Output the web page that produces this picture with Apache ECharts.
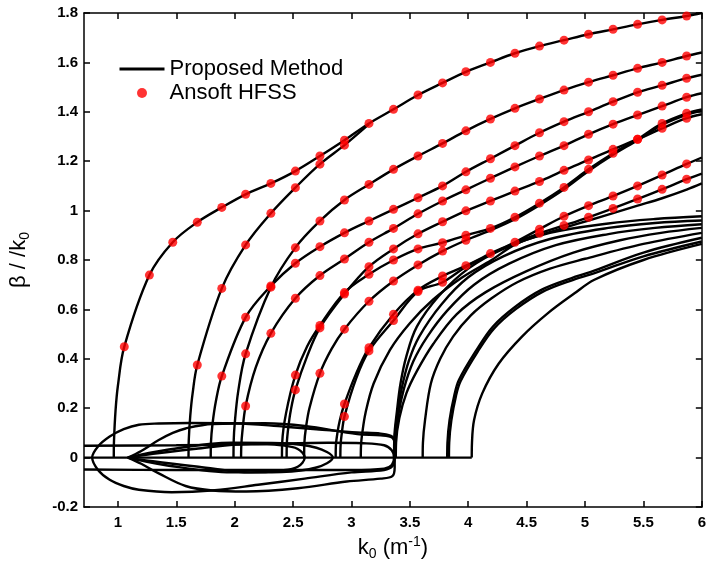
<!DOCTYPE html>
<html>
<head>
<meta charset="utf-8">
<script src="https://cdn.jsdelivr.net/npm/echarts@6/dist/echarts.min.js"></script>
<style>
html, body { margin: 0; padding: 0; background: #fff; }
#main { width: 709px; height: 569px; }
</style>
</head>
<body>
<div id="main"></div>
<script>
// tick labels
var xTicks = [1, 1.5, 2, 2.5, 3, 3.5, 4, 4.5, 5, 5.5, 6];

// HFSS points, one list per mode (k0, beta/k0)
var hfssA = [[1.055,0.449],[1.27,0.739],[1.47,0.872],[1.68,0.953],[1.89,1.013],[2.094,1.066],[2.31,1.11],[2.52,1.16],[2.73,1.221],[2.94,1.285],[3.15,1.353],[3.36,1.41],[3.57,1.468],[3.78,1.517],[3.98,1.562],[4.19,1.60],[4.40,1.637],[4.61,1.666],[4.82,1.69],[5.03,1.714],[5.24,1.734],[5.45,1.754],[5.66,1.772],[5.87,1.788]];
var hfssB = [[1.68,0.375],[1.89,0.685],[2.094,0.861],[2.31,0.989],[2.52,1.093],[2.73,1.188],[2.94,1.265]];
var hfssC = [[2.094,0.42],[2.31,0.69],[2.52,0.85],[2.73,0.958],[2.94,1.043],[3.15,1.106],[3.36,1.167],[3.57,1.221],[3.78,1.272],[3.98,1.323],[4.19,1.371],[4.40,1.414],[4.61,1.452],[4.82,1.488],[5.03,1.52],[5.24,1.548],[5.45,1.576],[5.66,1.60],[5.87,1.626]];
var hfssD = [[1.89,0.33],[2.094,0.568],[2.31,0.695],[2.52,0.787],[2.73,0.854],[2.94,0.91],[3.15,0.958],[3.36,1.005],[3.57,1.052],[3.78,1.10],[3.98,1.157],[4.19,1.21],[4.40,1.263],[4.61,1.315],[4.82,1.36],[5.03,1.40],[5.24,1.441],[5.45,1.479],[5.66,1.507],[5.87,1.536]];
var hfssE = [[2.094,0.209],[2.31,0.503],[2.52,0.645],[2.73,0.737],[2.94,0.804],[3.15,0.872],[3.36,0.928],[3.57,0.987],[3.78,1.039],[3.98,1.084],[4.19,1.131],[4.40,1.177],[4.61,1.221],[4.82,1.263],[5.03,1.309],[5.24,1.35],[5.45,1.387],[5.66,1.423],[5.87,1.459]];
var hfssF = [[2.52,0.274],[2.73,0.525],[2.94,0.662],[3.15,0.773],[3.36,0.845],[3.57,0.906],[3.78,0.955],[3.98,0.999],[4.19,1.039],[4.40,1.079],[4.61,1.118],[4.82,1.163],[5.03,1.205],[5.24,1.248],[5.45,1.289],[5.66,1.333],[5.87,1.374]];
var hfssG = [[2.52,0.334],[2.73,0.535],[2.94,0.668],[3.15,0.742],[3.36,0.80],[3.57,0.845],[3.78,0.87],[3.98,0.90],[4.19,0.928],[4.40,0.973],[4.61,1.03],[4.82,1.094],[5.03,1.167],[5.24,1.232],[5.45,1.289],[5.66,1.353],[5.87,1.394]];
var hfssH = [[2.73,0.341],[2.94,0.52],[3.15,0.633],[3.36,0.715],[3.57,0.78],[3.78,0.836],[3.98,0.88]];
var hfssI = [[2.94,0.217],[3.15,0.445],[3.36,0.58],[3.57,0.678],[3.78,0.735],[3.98,0.777],[4.19,0.826],[4.40,0.872],[4.61,0.925],[4.82,0.977],[5.03,1.02],[5.24,1.059],[5.45,1.10],[5.66,1.144],[5.87,1.189]];
var hfssJ = [[2.94,0.166],[3.15,0.432],[3.36,0.555],[3.57,0.672],[3.78,0.71],[4.61,0.908],[4.82,0.94],[5.03,0.973],[5.24,1.009],[5.45,1.047],[5.66,1.086],[5.87,1.127]];

// proposed method curves
var lineA = [[0.965,0],[0.967,0.07],[0.98,0.19],[1.0,0.29]].concat(hfssA, [[6,1.80]]);
var lineB = [[1.605,0],[1.607,0.07],[1.62,0.17],[1.64,0.26]].concat(hfssB, [[3.15,1.35]]);
var lineC = [[1.99,0],[1.992,0.07],[2.0,0.135],[2.03,0.267]].concat(hfssC, [[6,1.64]]);
var lineD = [[1.795,0],[1.797,0.06],[1.81,0.135],[1.84,0.23]].concat(hfssD, [[6,1.55]]);
var lineE = [[2.055,0],[2.057,0.05],[2.065,0.1],[2.094,0.209],[2.18,0.364]].concat(hfssE.slice(1), [[6,1.475]]);
var lineF = [[2.445,0],[2.447,0.06],[2.46,0.125],[2.48,0.19],[2.52,0.274],[2.62,0.41]].concat(hfssF.slice(1), [[6,1.39]]);
var lineG = [[2.405,0],[2.407,0.06],[2.44,0.18],[2.52,0.334],[2.62,0.45]].concat(hfssG.slice(1), [[6,1.41]]);
var lineH = [[2.595,0],[2.597,0.06],[2.61,0.12],[2.64,0.2],[2.73,0.341],[2.83,0.44]].concat(hfssH.slice(1), [[4.19,0.92],[4.40,0.965],[4.61,1.022],[4.82,1.086],[5.03,1.16],[5.24,1.226],[5.45,1.285],[5.66,1.347],[5.87,1.388],[6,1.405]]);
var lineI = [[2.865,0],[2.867,0.05],[2.88,0.1],[2.90,0.15],[2.94,0.217],[3.04,0.34]].concat(hfssI.slice(1), [[6,1.215]]);
var lineJ = [[2.905,0],[2.907,0.05],[2.915,0.09],[2.94,0.166],[3.04,0.32],[3.15,0.432],[3.36,0.555],[3.57,0.672],[3.78,0.71],[3.98,0.772],[4.19,0.822],[4.40,0.869]].concat(hfssJ.slice(5), [[6,1.15]]);
var lineK = [[3.08,0],[3.082,0.05],[3.09,0.09],[3.12,0.18],[3.19,0.30],[3.33,0.436],[3.50,0.544],[3.70,0.64],[3.95,0.73],[4.2,0.80],[4.40,0.862],[4.61,0.90],[4.82,0.93],[5.03,0.96],[5.24,0.99],[5.45,1.02],[5.66,1.05],[5.87,1.085],[6,1.11]];
var lineU2 = [[3.365,0],[3.367,0.08],[3.39,0.19],[3.42,0.30],[3.47,0.41],[3.56,0.53],[3.75,0.655],[4.0,0.765],[4.3,0.845],[4.7,0.91],[5.2,0.948],[5.6,0.966],[6,0.977]];
var lineU3 = [[3.37,0],[3.372,0.08],[3.395,0.18],[3.43,0.28],[3.49,0.39],[3.58,0.49],[3.77,0.62],[4.0,0.73],[4.3,0.815],[4.7,0.885],[5.2,0.93],[5.6,0.95],[6,0.96]];
var lineU4 = [[3.375,0],[3.377,0.07],[3.40,0.17],[3.45,0.28],[3.53,0.39],[3.65,0.49],[3.82,0.595],[4.05,0.70],[4.35,0.785],[4.75,0.86],[5.2,0.905],[5.6,0.93],[6,0.945]];
var lineU5 = [[3.38,0],[3.382,0.06],[3.41,0.16],[3.47,0.26],[3.56,0.35],[3.70,0.46],[3.9,0.58],[4.15,0.67],[4.5,0.755],[4.9,0.83],[5.3,0.88],[5.65,0.91],[6,0.93]];
var lineL1 = [[3.61,0],[3.612,0.06],[3.63,0.152],[3.68,0.30],[3.76,0.40],[3.87,0.49],[4.02,0.575],[4.2,0.645],[4.42,0.71],[4.7,0.765],[5.0,0.805],[5.5,0.865],[6,0.91]];
var lineL2 = [[3.82,0],[3.822,0.06],[3.84,0.152],[3.88,0.25],[3.92,0.314],[4.07,0.435],[4.21,0.53],[4.40,0.61],[4.63,0.68],[4.88,0.726],[5.05,0.752],[5.5,0.83],[6,0.89]];
var lineL3 = [[3.835,0],[3.837,0.06],[3.855,0.15],[3.895,0.25],[3.935,0.31],[4.08,0.428],[4.22,0.522],[4.41,0.602],[4.64,0.672],[4.9,0.72],[5.1,0.75],[5.5,0.815],[6,0.875]];
var lineL4 = [[4.03,0],[4.032,0.06],[4.05,0.152],[4.12,0.26],[4.26,0.38],[4.46,0.49],[4.68,0.584],[4.91,0.665],[5.08,0.72],[5.5,0.8],[6,0.865]];

// complex branches near beta = 0
var zeroLine = [[0.71,0],[4.03,0]];
var bandLoop = [[0.71,0.048],[1.5,0.05],[2.2,0.054],[2.8,0.06],[3.1,0.058],[3.28,0.05],[3.345,0.03],[3.365,0],[3.345,-0.03],[3.28,-0.045],[3.0,-0.05],[2.2,-0.05],[1.5,-0.05],[0.71,-0.048]];
var outerLoop1 = [[3.37,0],[3.37,0.05],[3.35,0.085],[3.25,0.097],[3.05,0.102],[2.7,0.115],[2.43,0.125],[2.0,0.139],[1.61,0.14],[1.35,0.138],[1.18,0.133],[1.05,0.115],[0.93,0.085],[0.83,0.045],[0.78,0],[0.83,-0.05],[0.93,-0.09],[1.05,-0.115],[1.18,-0.13],[1.46,-0.14],[1.83,-0.132],[2.2,-0.11],[2.6,-0.085],[3.0,-0.06],[3.28,-0.05],[3.35,-0.035],[3.37,0]];
var outerLoop2 = [[1.085,0],[1.2,0.027],[1.35,0.071],[1.47,0.1],[1.58,0.118],[1.81,0.136],[2.26,0.139],[2.6,0.128],[3.05,0.095],[3.25,0.09],[3.35,0.08],[3.37,0.05],[3.37,0],[3.37,-0.04],[3.35,-0.075],[3.25,-0.085],[2.96,-0.097],[2.54,-0.124],[2.1,-0.137],[1.81,-0.133],[1.58,-0.115],[1.35,-0.064],[1.2,-0.025],[1.085,0]];
var innerLoop1 = [[1.085,0],[1.3,0.015],[1.69,0.037],[2.14,0.056],[2.4,0.05],[2.54,0.035],[2.60,0],[2.54,-0.037],[2.4,-0.052],[2.14,-0.06],[1.69,-0.037],[1.3,-0.015],[1.085,0]];
var innerLoop2 = [[1.085,0],[1.4,0.03],[1.975,0.06],[2.4,0.058],[2.7,0.04],[2.84,0],[2.7,-0.04],[2.4,-0.058],[1.975,-0.06],[1.4,-0.03],[1.085,0]];

var curves = [lineA, lineB, lineC, lineD, lineE, lineF, lineG, lineH, lineI, lineJ, lineK,
  lineU2, lineU3, lineU4, lineU5, lineL1, lineL2, lineL3, lineL4,
  zeroLine, bandLoop, outerLoop1, outerLoop2, innerLoop1, innerLoop2];
var hfss = [].concat(hfssA, hfssB, hfssC, hfssD, hfssE, hfssF, hfssG, hfssH, hfssI, hfssJ);

var font = 'Liberation Sans, Arial, sans-serif';

var series = [];
for (var i = 0; i < curves.length; i++) {
  series.push({
    type: 'line',
    name: 'Proposed Method',
    data: curves[i],
    symbol: 'none',
    smooth: 0.35,
    lineStyle: { color: '#000', width: 2.4 },
    itemStyle: { color: '#000' },
    z: 2
  });
}
series.push({
  type: 'scatter',
  name: 'Ansoft HFSS',
  data: hfss,
  symbol: 'circle',
  symbolSize: 9,
  itemStyle: { color: '#ff0000' },
  z: 5
});

var axisLineStyle = { color: '#000', width: 1.5 };

var chart = echarts.init(document.getElementById('main'));
var option = {
  animation: false,
  backgroundColor: '#fff',
  grid: { left: 84, right: 1, top: 13, bottom: 62 },
  legend: {
    orient: 'vertical',
    left: 113,
    top: 53,
    itemWidth: 45,
    itemHeight: 10,
    itemGap: 2,
    data: [
      { name: 'Proposed Method', itemStyle: { opacity: 0 }, lineStyle: { width: 3, color: '#000' } },
      { name: 'Ansoft HFSS' }
    ],
    textStyle: { fontFamily: font, fontSize: 22, color: '#000' }
  },
  xAxis: [{
    type: 'value',
    min: 0.71,
    max: 6,
    name: '{a|k}{s|0}{a| (m}{p|-1}{a|)}',
    nameLocation: 'middle',
    nameGap: 28,
    nameTextStyle: {
      fontFamily: font, color: '#000',
      rich: {
        a: { fontFamily: font, fontSize: 22, color: '#000' },
        s: { fontFamily: font, fontSize: 14, color: '#000', padding: [12, 0, 0, 0] },
        p: { fontFamily: font, fontSize: 14, color: '#000', padding: [0, 0, 12, 0] }
      }
    },
    axisLine: { onZero: false, lineStyle: axisLineStyle },
    axisTick: { inside: true, length: 6, customValues: xTicks, lineStyle: axisLineStyle },
    axisLabel: { customValues: xTicks, fontFamily: font, fontSize: 15, fontWeight: 'bold', color: '#000', margin: 8 },
    splitLine: { show: false }
  }, {
    type: 'value',
    position: 'top',
    min: 0.71,
    max: 6,
    axisLine: { onZero: false, lineStyle: axisLineStyle },
    axisTick: { inside: true, length: 6, customValues: xTicks, lineStyle: axisLineStyle },
    axisLabel: { show: false },
    splitLine: { show: false }
  }],
  yAxis: [{
    type: 'value',
    min: -0.2,
    max: 1.8,
    interval: 0.2,
    name: '{a|β / /k}{s|0}',
    nameLocation: 'middle',
    nameRotate: 90,
    nameGap: 52,
    nameTextStyle: {
      fontFamily: font, color: '#000',
      rich: {
        a: { fontFamily: font, fontSize: 22, color: '#000' },
        s: { fontFamily: font, fontSize: 14, color: '#000', padding: [12, 0, 0, 0] }
      }
    },
    axisLine: { onZero: false, lineStyle: axisLineStyle },
    axisTick: { inside: true, length: 6, lineStyle: axisLineStyle },
    axisLabel: {
      fontFamily: font, fontSize: 15, fontWeight: 'bold', color: '#000', margin: 6,
      formatter: function (v) { return String(Math.round(v * 10) / 10); }
    },
    splitLine: { show: false }
  }, {
    type: 'value',
    position: 'right',
    min: -0.2,
    max: 1.8,
    interval: 0.2,
    axisLine: { onZero: false, lineStyle: axisLineStyle },
    axisTick: { inside: true, length: 6, lineStyle: axisLineStyle },
    axisLabel: { show: false },
    splitLine: { show: false }
  }],
  series: series
};
chart.setOption(option);
</script>
</body>
</html>
